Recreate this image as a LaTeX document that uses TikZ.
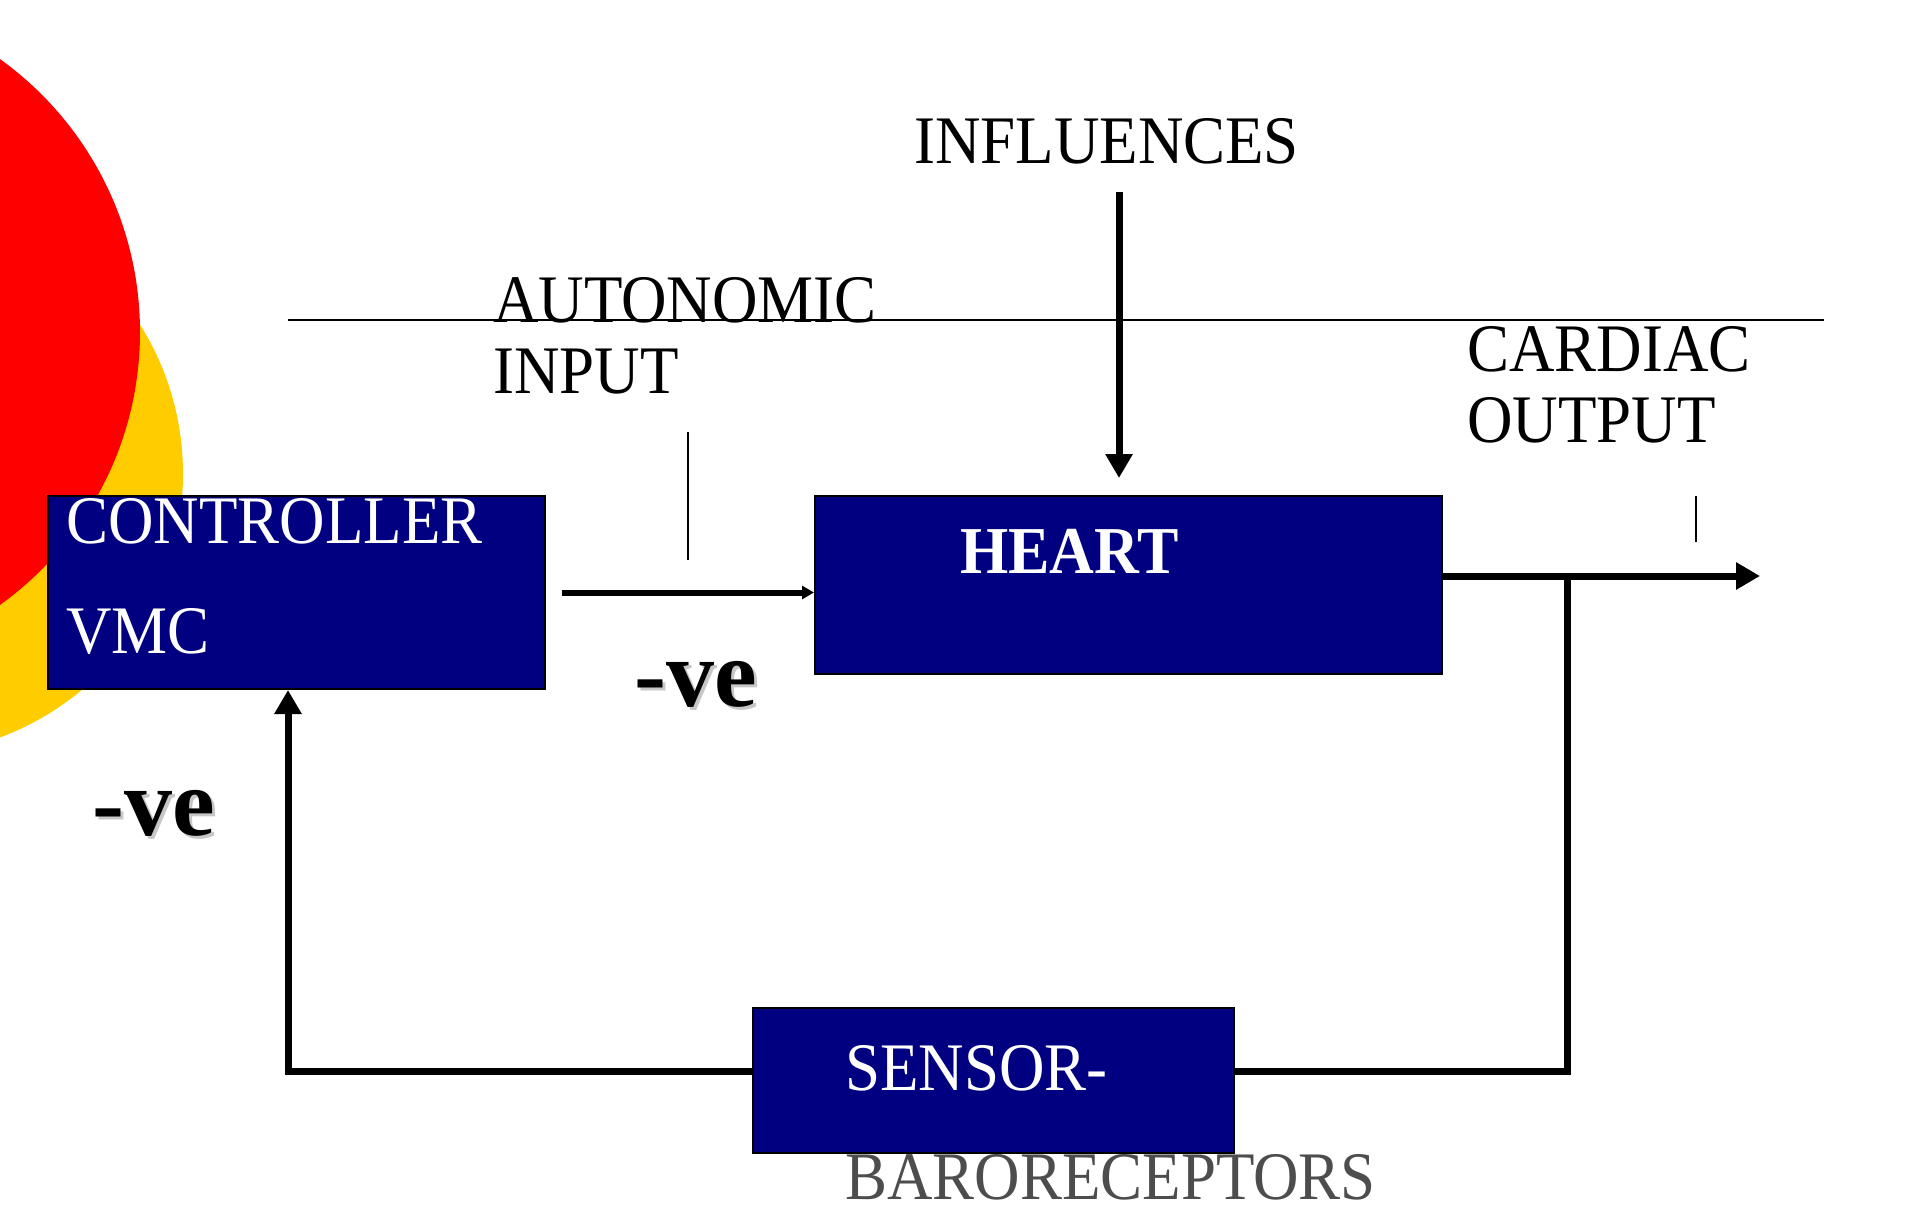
\documentclass[tikz,border=0pt]{standalone}
\usepackage{fontspec}
\setmainfont{Liberation Serif}
\newfontfamily\condensedserif{Liberation Serif}[FakeStretch=0.926]
\usetikzlibrary{arrows.meta}
\definecolor{boxblue}{RGB}{0,0,128}
\definecolor{discred}{RGB}{255,0,0}
\definecolor{discyellow}{RGB}{255,204,0}
\definecolor{labelgray}{RGB}{77,77,77}

\begin{document}
\begin{tikzpicture}[x=1pt,y=-1pt,
  blockbox/.style={draw=black, line width=2pt, fill=boxblue, inner sep=0pt, anchor=north west},
  lbl/.style={anchor=base west, inner sep=0pt, font=\condensedserif\fontsize{68}{74}\selectfont},
  wlbl/.style={lbl, text=white},
  neg/.style={anchor=base west, inner sep=0pt, font=\fontsize{96}{100}\selectfont\bfseries},
  negshadow/.style={neg, text=black!22},
  flow/.style={line width=7pt},
  hairline/.style={line width=2pt},
  bigtip/.style={-{Triangle[length=24pt,width=26pt]}},
  smalltip/.style={-{Triangle[length=12pt,width=13pt]}},
]
\useasboundingbox (0,0) rectangle (1920,1210);

% decorative discs at the left edge
\begin{scope}
  \clip (0,0) rectangle (1920,1210);
  \fill[discyellow] (-98,474) circle[radius=281];
  \fill[discred] (-196,332) circle[radius=336];
\end{scope}

% separator line
\coordinate (sepL) at (288,320);
\coordinate (sepR) at (1824,320);
\draw[hairline] (sepL) -- (sepR);

% blocks
\node[blockbox, minimum width=497pt, minimum height=193pt] (ctrl) at (47,495) {};
\node[blockbox, minimum width=627pt, minimum height=178pt] (heart) at (814,495) {};
\node[blockbox, minimum width=481pt, minimum height=145pt] (sensor) at (752,1007) {};

% block texts
\node[wlbl] (ctrlA) at (66,543) {CONTROLLER};
\node[wlbl] (ctrlB) at (66,653) {VMC};
\node[wlbl, font=\condensedserif\fontsize{67}{74}\selectfont\bfseries] (heartT) at (960,573) {HEART};
\node[wlbl] (sensA) at (845,1090) {SENSOR-};
\node[lbl, text=labelgray] (sensB) at (845,1199) {BARORECEPTORS};

% outside labels
\node[lbl] (infl) at (914,163) {INFLUENCES};
\node[lbl] (autoA) at (493,322) {AUTONOMIC};
\node[lbl] (autoB) at (493,393) {INPUT};
\node[lbl] (cardA) at (1467,371) {CARDIAC};
\node[lbl] (cardB) at (1467,442) {OUTPUT};

% sign labels
\node[negshadow] (negAs) at (637,709) {-ve};
\node[neg] (negA) at (634,706) {-ve};
\node[negshadow] (negBs) at (95,838) {-ve};
\node[neg] (negB) at (92,835) {-ve};

% small ticks
\coordinate (tickAt) at (688,432);
\coordinate (tickAb) at (688,560);
\draw[hairline] (tickAt) -- (tickAb);
\coordinate (tickCt) at (1696,496);
\coordinate (tickCb) at (1696,542);
\draw[hairline] (tickCt) -- (tickCb);

% controller to heart
\draw[line width=6pt, smalltip] ([xshift=16pt]ctrl.east) -- (heart.west |- ctrl.east);

% influences arrow
\coordinate (inflTop) at (1119,192);
\draw[flow, bigtip] (inflTop) -- ([yshift=17pt]heart.north -| inflTop);

% cardiac output
\coordinate (tap) at (1567,576);
\coordinate (outEnd) at (1760,576);
\draw[flow, bigtip] (heart.east |- tap) -- (outEnd);

% feedback loop
\coordinate (fbR) at (1567,1071);
\coordinate (fbL) at (288,1071);
\draw[flow] (tap) -- (fbR) -- (sensor.east |- fbR);
\draw[flow, bigtip] (sensor.west |- fbL) -- (fbL) -- (fbL |- ctrl.south);
\end{tikzpicture}
\end{document}
